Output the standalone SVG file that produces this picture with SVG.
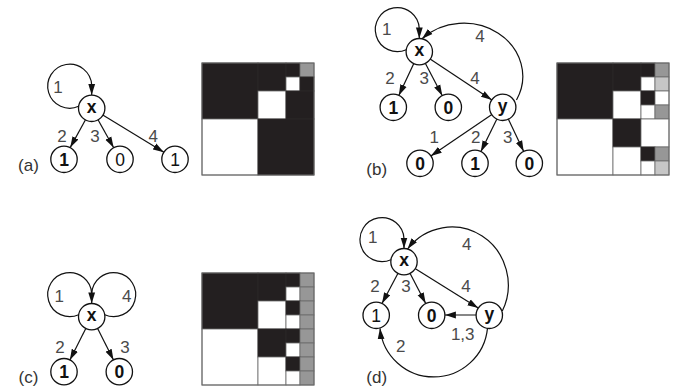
<svg xmlns="http://www.w3.org/2000/svg" width="679" height="386" viewBox="0 0 679 386">
<style>
.n{fill:#fff;stroke:#111;stroke-width:1.3}
.e{fill:none;stroke:#111;stroke-width:1.2}
.t{font-family:"Liberation Sans",Arial,sans-serif;font-size:17.5px;text-anchor:middle;fill:#111}
.b{font-weight:bold}
.l{font-family:"Liberation Sans",Arial,sans-serif;font-size:17px;text-anchor:middle;fill:#4a4a4a}
.cap{font-family:"Liberation Sans",Arial,sans-serif;font-size:17px;text-anchor:middle;fill:#333}
.K{fill:#231f20;stroke:#2c2829;stroke-width:0.8}
.W{fill:#fff;stroke:#6a6a6a;stroke-width:0.8}
.G{fill:#979797;stroke:#6a6a6a;stroke-width:0.8}
.L{fill:#c6c6c6;stroke:#6a6a6a;stroke-width:0.8}
.frame{fill:none;stroke:#6a6a6a;stroke-width:1}
</style>
<defs>
<marker id="ah" markerWidth="11" markerHeight="8" refX="11" refY="4" orient="auto" markerUnits="userSpaceOnUse">
<path d="M0,0.6 L11,4 L0,7.4 z" fill="#111"/>
</marker>
</defs>

<!-- (a) -->
<g id="a-connectors">
<path class="e" d="M78.7,106.3 A22,22 0 1 1 91.7,85.3 L91.7,95.1" marker-end="url(#ah)"/>
<path class="e" d="M85.5,119.7 L70.2,147.6" marker-end="url(#ah)"/>
<path class="e" d="M98,119.7 L113.7,147.7" marker-end="url(#ah)"/>
<path class="e" d="M102.8,115.1 L163.9,152.2" marker-end="url(#ah)"/>
</g>
<g id="a-labels">
<text class="l" x="58" y="92.7">1</text>
<text class="l" x="62" y="141.7">2</text>
<text class="l" x="95" y="141.7">3</text>
<text class="l" x="153.3" y="141.7">4</text>
<text class="cap" x="28.5" y="171">(a)</text>
</g>
<g id="a-x"><circle class="n" cx="91.7" cy="108.3" r="13.2"/><text class="t b" x="91.7" y="112.8">x</text></g>
<g id="a-1b"><circle class="n" cx="64" cy="159.3" r="13.2"/><text class="t b" x="64" y="165.8">1</text></g>
<g id="a-0"><circle class="n" cx="120" cy="159.3" r="13.2"/><text class="t" x="120" y="165.8">0</text></g>
<g id="a-1"><circle class="n" cx="175" cy="159.3" r="13.2"/><text class="t" x="175" y="165.8">1</text></g>

<g id="a-matrix">
<rect class="K" x="202" y="63" width="56" height="56"/>
<rect class="K" x="258" y="63" width="28" height="28"/>
<rect class="K" x="286" y="63" width="14" height="14"/>
<rect class="G" x="300" y="63" width="14" height="14"/>
<rect class="W" x="286" y="77" width="14" height="14"/>
<rect class="K" x="300" y="77" width="14" height="14"/>
<rect class="W" x="258" y="91" width="28" height="28"/>
<rect class="K" x="286" y="91" width="28" height="28"/>
<rect class="W" x="202" y="119" width="56" height="56"/>
<rect class="K" x="258" y="119" width="56" height="56"/>
<rect class="frame" x="202" y="63" width="112" height="112"/>
</g>

<!-- (b) -->
<g id="b-connectors">
<path class="e" d="M406.3,49.7 A22,22 0 1 1 419.3,28.7 L419.3,38.5" marker-end="url(#ah)"/>
<path class="e" d="M516.5,100 A59,53 0 0 0 422,38.8" marker-end="url(#ah)"/>
<path class="e" d="M413.8,63.5 L398.8,95.5" marker-end="url(#ah)"/>
<path class="e" d="M425.3,63.2 L442.3,95.8" marker-end="url(#ah)"/>
<path class="e" d="M430.1,58.9 L491.9,100.1" marker-end="url(#ah)"/>
<path class="e" d="M491.9,114.6 L430.8,156" marker-end="url(#ah)"/>
<path class="e" d="M496.9,119 L480.8,151.7" marker-end="url(#ah)"/>
<path class="e" d="M508.3,119 L523.7,151.6" marker-end="url(#ah)"/>
</g>
<g id="b-labels">
<text class="l" x="386.7" y="35">1</text>
<text class="l" x="480" y="41.7">4</text>
<text class="l" x="390" y="84">2</text>
<text class="l" x="424.3" y="84">3</text>
<text class="l" x="475" y="84">4</text>
<text class="l" x="434.3" y="142.7">1</text>
<text class="l" x="475.7" y="142.7">2</text>
<text class="l" x="507.7" y="142.7">3</text>
<text class="cap" x="376.7" y="174.5">(b)</text>
</g>
<g id="b-x"><circle class="n" cx="419.3" cy="51.7" r="13.2"/><text class="t b" x="419.3" y="56.2">x</text></g>
<g id="b-1"><circle class="n" cx="393.3" cy="107.3" r="13.2"/><text class="t b" x="393.3" y="113.8">1</text></g>
<g id="b-0"><circle class="n" cx="448.3" cy="107.3" r="13.2"/><text class="t b" x="448.3" y="113.8">0</text></g>
<g id="b-y"><circle class="n" cx="502.7" cy="107.3" r="13.2"/><text class="t b" x="502.7" y="111.8">y</text></g>
<g id="b-0a"><circle class="n" cx="420" cy="163.3" r="13.2"/><text class="t b" x="420" y="169.8">0</text></g>
<g id="b-1a"><circle class="n" cx="475" cy="163.3" r="13.2"/><text class="t b" x="475" y="169.8">1</text></g>
<g id="b-0b"><circle class="n" cx="529.3" cy="163.3" r="13.2"/><text class="t b" x="529.3" y="169.8">0</text></g>

<g id="b-matrix">
<rect class="K" x="557" y="63" width="56" height="56"/>
<rect class="K" x="613" y="63" width="28" height="28"/>
<rect class="K" x="641" y="63" width="14" height="14"/>
<rect class="G" x="655" y="63" width="14" height="14"/>
<rect class="W" x="641" y="77" width="14" height="14"/>
<rect class="L" x="655" y="77" width="14" height="14"/>
<rect class="W" x="613" y="91" width="28" height="28"/>
<rect class="K" x="641" y="91" width="14" height="14"/>
<rect class="W" x="655" y="91" width="14" height="14"/>
<rect class="W" x="641" y="105" width="14" height="14"/>
<rect class="G" x="655" y="105" width="14" height="14"/>
<rect class="W" x="557" y="119" width="56" height="56"/>
<rect class="K" x="613" y="119" width="28" height="28"/>
<rect class="W" x="641" y="119" width="28" height="28"/>
<rect class="W" x="613" y="147" width="28" height="28"/>
<rect class="K" x="641" y="147" width="14" height="14"/>
<rect class="G" x="655" y="147" width="14" height="14"/>
<rect class="W" x="641" y="161" width="14" height="14"/>
<rect class="L" x="655" y="161" width="14" height="14"/>
<rect class="frame" x="557" y="63" width="112" height="112"/>
</g>

<!-- (c) -->
<g id="c-connectors">
<path class="e" d="M104.7,314.7 A22,22 0 1 0 91.7,293.7"/>
<path class="e" d="M78.7,314.7 A22,22 0 1 1 91.7,293.7 L91.7,303.5" marker-end="url(#ah)"/>
<path class="e" d="M85.9,328.3 L69.9,360.1" marker-end="url(#ah)"/>
<path class="e" d="M97.5,328.3 L113.5,360.1" marker-end="url(#ah)"/>
</g>
<g id="c-labels">
<text class="l" x="59.3" y="301.7">1</text>
<text class="l" x="126.7" y="301.7">4</text>
<text class="l" x="60" y="353.3">2</text>
<text class="l" x="125" y="353.3">3</text>
<text class="cap" x="28.5" y="382.5">(c)</text>
</g>
<g id="c-x"><circle class="n" cx="91.7" cy="316.7" r="13.2"/><text class="t b" x="91.7" y="321.2">x</text></g>
<g id="c-1"><circle class="n" cx="64" cy="371.7" r="13.2"/><text class="t b" x="64" y="378.2">1</text></g>
<g id="c-0"><circle class="n" cx="119.3" cy="371.7" r="13.2"/><text class="t b" x="119.3" y="378.2">0</text></g>

<g id="c-matrix">
<rect class="K" x="202" y="273" width="56" height="56"/>
<rect class="K" x="258" y="273" width="28" height="28"/>
<rect class="K" x="286" y="273" width="14" height="14"/>
<rect class="G" x="300" y="273" width="14" height="14"/>
<rect class="W" x="286" y="287" width="14" height="14"/>
<rect class="G" x="300" y="287" width="14" height="14"/>
<rect class="W" x="258" y="301" width="28" height="28"/>
<rect class="K" x="286" y="301" width="14" height="14"/>
<rect class="G" x="300" y="301" width="14" height="14"/>
<rect class="W" x="286" y="315" width="14" height="14"/>
<rect class="G" x="300" y="315" width="14" height="14"/>
<rect class="W" x="202" y="329" width="56" height="56"/>
<rect class="K" x="258" y="329" width="28" height="28"/>
<rect class="K" x="286" y="329" width="14" height="14"/>
<rect class="G" x="300" y="329" width="14" height="14"/>
<rect class="W" x="286" y="343" width="14" height="14"/>
<rect class="G" x="300" y="343" width="14" height="14"/>
<rect class="W" x="258" y="357" width="28" height="28"/>
<rect class="K" x="286" y="357" width="14" height="14"/>
<rect class="G" x="300" y="357" width="14" height="14"/>
<rect class="W" x="286" y="371" width="14" height="14"/>
<rect class="G" x="300" y="371" width="14" height="14"/>
<rect class="frame" x="202" y="273" width="112" height="112"/>
</g>

<!-- (d) -->
<g id="d-connectors">
<path class="e" d="M391,259.7 A22,22 0 1 1 404,238.7 L404,248.5" marker-end="url(#ah)"/>
<path class="e" d="M502.3,311 A56.5,58 0 0 0 407.5,249" marker-end="url(#ah)"/>
<path class="e" d="M398,273.2 L382,303.5" marker-end="url(#ah)"/>
<path class="e" d="M410,273.2 L425.7,303.5" marker-end="url(#ah)"/>
<path class="e" d="M415,268.6 L478.3,308.1" marker-end="url(#ah)"/>
<path class="e" d="M476.1,315 L444.9,315" marker-end="url(#ah)"/>
<path class="e" d="M487.5,328.1 A54,54 0 0 1 380,328.2" marker-end="url(#ah)"/>
</g>
<g id="d-labels">
<text class="l" x="372.7" y="243.3">1</text>
<text class="l" x="466.7" y="250">4</text>
<text class="l" x="375" y="291.7">2</text>
<text class="l" x="406" y="292">3</text>
<text class="l" x="466" y="291.7">4</text>
<text class="l" x="462.7" y="340">1,3</text>
<text class="l" x="400.7" y="351.7">2</text>
<text class="cap" x="376.7" y="383">(d)</text>
</g>
<g id="d-x"><circle class="n" cx="404" cy="261.7" r="13.2"/><text class="t b" x="404" y="266.2">x</text></g>
<g id="d-1"><circle class="n" cx="376.2" cy="315.3" r="13.2"/><text class="t" x="376.2" y="321.8">1</text></g>
<g id="d-0"><circle class="n" cx="431.7" cy="315.3" r="13.2"/><text class="t b" x="431.7" y="321.8">0</text></g>
<g id="d-y"><circle class="n" cx="489.3" cy="315.3" r="13.2"/><text class="t b" x="489.3" y="319.8">y</text></g>
</svg>
